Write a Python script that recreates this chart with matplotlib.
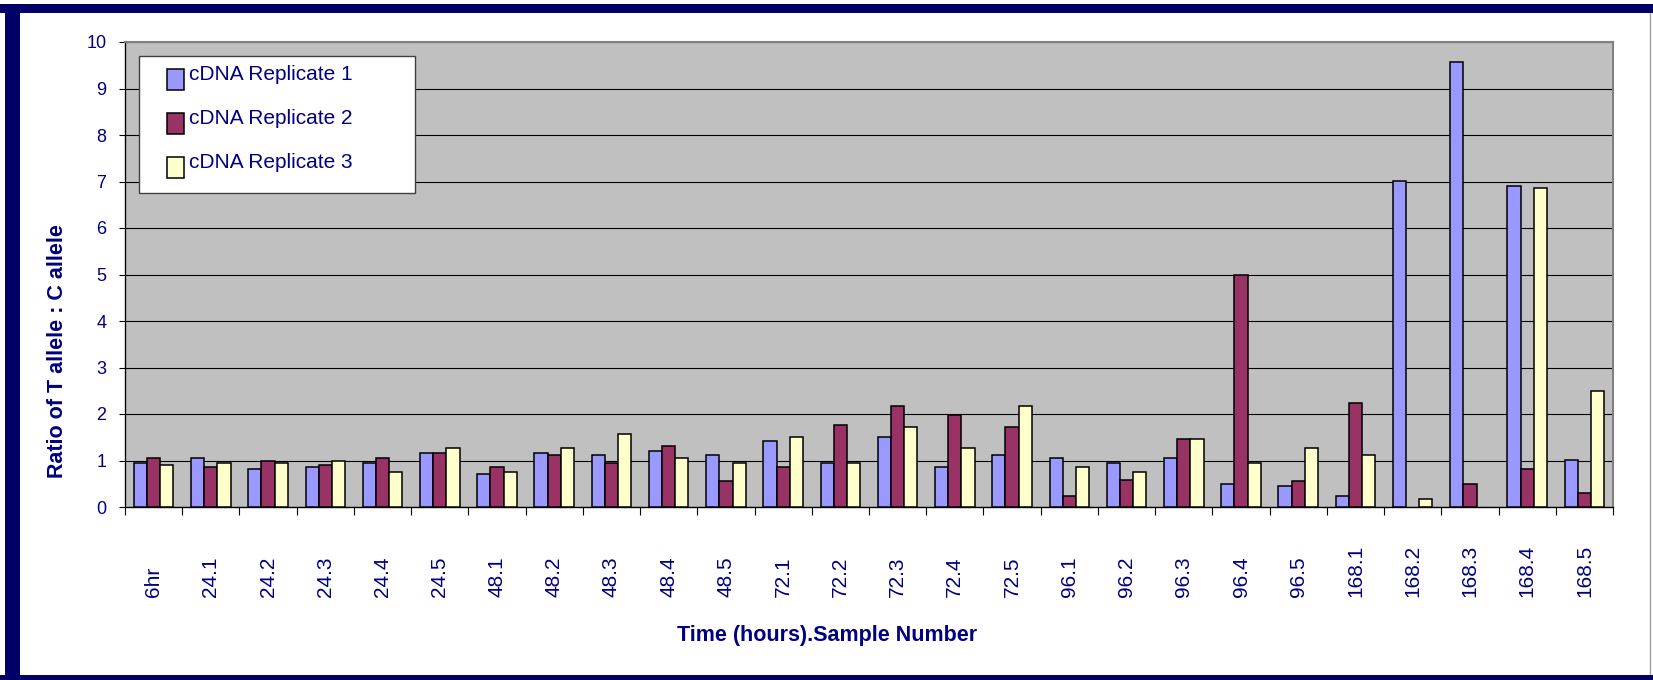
import matplotlib
matplotlib.use("Agg")
import matplotlib.pyplot as plt
import numpy as np
from matplotlib.patches import Rectangle
from matplotlib.lines import Line2D
from matplotlib.transforms import blended_transform_factory

plt.rcParams["font.family"] = ["Liberation Sans", "DejaVu Sans"]

samples = ["6hr", "24.1", "24.2", "24.3", "24.4", "24.5",
           "48.1", "48.2", "48.3", "48.4", "48.5",
           "72.1", "72.2", "72.3", "72.4", "72.5",
           "96.1", "96.2", "96.3", "96.4", "96.5",
           "168.1", "168.2", "168.3", "168.4", "168.5"]
rep1 = [0.94, 1.06, 0.81, 0.86, 0.94, 1.16, 0.70, 1.16, 1.11, 1.21, 1.11,
        1.41, 0.94, 1.51, 0.86, 1.11, 1.05, 0.95, 1.06, 0.50, 0.45,
        0.23, 7.01, 9.57, 6.91, 1.01]
rep2 = [1.06, 0.86, 1.00, 0.90, 1.06, 1.16, 0.86, 1.11, 0.94, 1.31, 0.55,
        0.86, 1.77, 2.17, 1.97, 1.71, 0.24, 0.59, 1.47, 5.00, 0.55,
        2.24, np.nan, 0.50, 0.81, 0.30]
rep3 = [0.90, 0.94, 0.94, 1.00, 0.75, 1.26, 0.75, 1.26, 1.56, 1.05, 0.94,
        1.51, 0.94, 1.71, 1.26, 2.17, 0.86, 0.75, 1.47, 0.95, 1.27,
        1.12, 0.18, np.nan, 6.86, 2.50]
names = ["cDNA Replicate 1", "cDNA Replicate 2", "cDNA Replicate 3"]
colors = ["#9999FF", "#993366", "#FFFFCC"]

NAVY = "#000080"
W, H = 1653, 680


def fx(x):
    return x / W


def fy(y):
    return 1 - y / H


fig = plt.figure(figsize=(W / 100, H / 100), dpi=100)
fig.patch.set_facecolor("white")

ax = fig.add_axes([fx(125), fy(507), fx(1613) - fx(125), fy(42) - fy(507)])
ax.set_facecolor("#C0C0C0")

x = np.arange(len(samples))
w = 0.23
for k, vals in enumerate([rep1, rep2, rep3]):
    ax.bar(x + (k - 1) * w, vals, w, color=colors[k], edgecolor="black",
           linewidth=1.1, zorder=3)

ax.set_xlim(-0.5, len(samples) - 0.5)
ax.set_ylim(0, 10)
ax.set_yticks(range(11))
ax.yaxis.grid(True, color="black", lw=0.8, zorder=1)
ax.set_xticks(np.arange(len(samples) + 1) - 0.5)
ax.set_xticklabels([])
ax.tick_params(axis="x", length=6, width=0.8, color="black")
ax.tick_params(axis="y", length=4.5, width=0.8, color="black",
               labelsize=13, labelcolor=NAVY, pad=9)
for s in ("top", "right"):
    ax.spines[s].set_color("#808080")
    ax.spines[s].set_linewidth(1.5)
for s in ("left", "bottom"):
    ax.spines[s].set_color("black")
    ax.spines[s].set_linewidth(1.0)

# category labels, bottom-aligned under the axis
trans = blended_transform_factory(ax.transData, fig.transFigure)
for i, lab in enumerate(samples):
    ax.text(i, fy(597), lab, transform=trans, rotation=90, ha="center",
            va="bottom", fontsize=15, color=NAVY)

fig.text(fx(58), fy(351), "Ratio of T allele : C allele", rotation=90,
         ha="center", va="center", fontsize=15.5, fontweight="bold", color=NAVY)
fig.text(fx(827), fy(635), "Time (hours).Sample Number", ha="center",
         va="center", fontsize=15.5, fontweight="bold", color=NAVY)

# legend box
fig.patches.append(Rectangle((fx(139), fy(193)), fx(415) - fx(139), fy(56) - fy(193),
                             transform=fig.transFigure, facecolor="white",
                             edgecolor="#404040", lw=1, zorder=5))
for j, (name, col) in enumerate(zip(names, colors)):
    top = 69 + 44 * j
    fig.patches.append(Rectangle((fx(167), fy(top + 21)), 17 / W, 21 / H,
                                 transform=fig.transFigure, facecolor=col,
                                 edgecolor="black", lw=1.1, zorder=6))
    fig.text(fx(189), fy(top + 11), name, ha="left", va="baseline",
             fontsize=15, color=NAVY, zorder=6)

# outer frame
for (x0, y0, x1, y1) in [(0, 4, W, 13), (5, 4, 20, H), (0, 675, W, H)]:
    fig.patches.append(Rectangle((fx(x0), fy(y1)), (x1 - x0) / W, (y1 - y0) / H,
                                 transform=fig.transFigure, facecolor="#000066",
                                 edgecolor="none", zorder=7))
fig.lines.append(Line2D([fx(1650), fx(1650)], [fy(13), fy(675)],
                        transform=fig.transFigure, color="#A0A0A0", lw=1))

fig.savefig("out.png", dpi=100)
